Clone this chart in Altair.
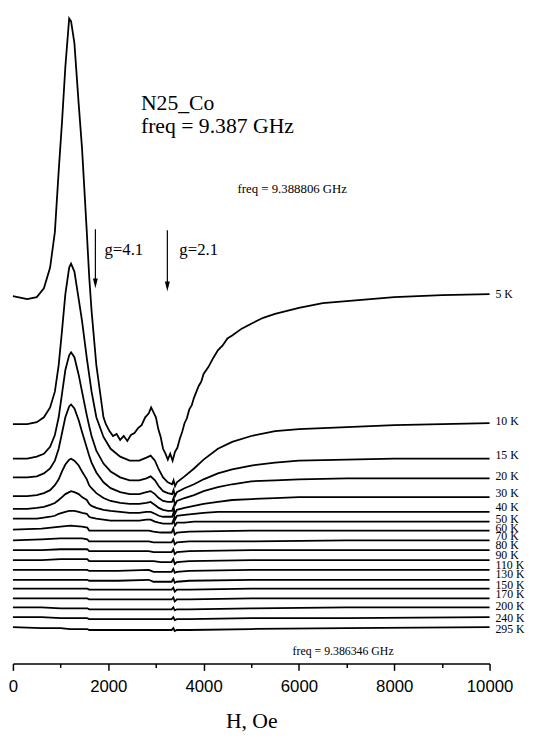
import altair as alt
import pandas as pd

# ---------------- data (signal in arbitrary units, offset per temperature) ----------------
TEMPS = ["5 K", "10 K", "15 K", "20 K", "30 K", "40 K", "50 K", "60 K", "70 K", "80 K",
         "90 K", "110 K", "130 K", "150 K", "170 K", "200 K", "240 K", "295 K"]
OFFSETS = [372, 243, 208, 189, 170, 157, 147, 136, 125, 115, 105, 95, 85, 76, 66, 57, 47, 37]
LABEL_Y = [375, 246, 212, 190, 173, 159, 147, 138, 129, 120, 110, 100, 91, 80, 70, 58, 46, 35]

H_5K = [0, 300, 500, 650, 780, 880, 960, 1030, 1100, 1180, 1220, 1290, 1380, 1450, 1550, 1600,
        1650, 1750, 1900, 1950, 2025, 2100, 2175, 2250, 2325, 2400, 2475, 2550, 2625, 2700,
        2775, 2850, 2900, 2950, 3000, 3050, 3100, 3150, 3200, 3250, 3300, 3350, 3400, 3450,
        3500, 3550, 3600, 3650, 3700, 3750, 3800, 3850, 3900, 3950, 4000, 4100, 4200, 4300,
        4400, 4500, 4600, 4800, 5000, 5250, 5500, 6000, 6500, 7000, 8000, 9000, 10000]
S_5K = [1, -2, 0, 9, 30, 66, 128, 178, 234, 283, 280, 258, 196, 151, 66, 21,
        -14, -69, -122, -129, -136, -141, -139, -145, -141, -146, -140, -138, -133, -130,
        -122, -118, -112, -117, -122, -134, -142, -154, -159, -165, -159, -166, -157, -153,
        -144, -137, -128, -123, -114, -110, -102, -96, -90, -86, -78, -71, -62, -54,
        -49, -42, -39, -32, -27, -21, -17, -11, -6, -4, 0, 2, 3]

H_GRID = [0, 300, 500, 650, 780, 880, 960, 1030, 1100, 1180, 1220, 1290, 1380, 1450, 1550,
          1600, 1650, 1750, 1900, 2050, 2250, 2450, 2650, 2800, 2890, 2980, 3060, 3150, 3250,
          3340, 3370, 3400, 3440, 3600, 3800, 4000, 4300, 4600, 5000, 5500, 6000, 7000, 8000,
          10000]
S_10K = [0, 0, 2, 7, 17, 33, 60, 95, 132, 159, 163, 155, 127, 105, 67, 50, 33, 7, -13, -25,
         -33, -37, -37, -34, -32, -37, -46, -54, -59, -61, -57, -63, -59, -53, -45, -36, -25,
         -18, -12, -7, -5, -3, -1, 1]
S_15K = [0, 0, 2, 5, 12, 24, 42, 66, 90, 105, 108, 103, 85, 68, 44, 33, 23, 8, -5, -13,
         -19, -22, -22, -20, -18, -22, -28, -33, -35, -36, -32, -38, -34, -30, -26, -21, -15,
         -11, -7, -4, -2, -1, 0, 0]
S_20K = [0, 0, 1, 4, 9, 17, 29, 45, 61, 72, 74, 70, 58, 46, 30, 22, 15, 5, -5, -11,
         -15, -17, -17, -15, -14, -17, -21, -24, -25, -25, -21, -28, -24, -21, -18, -14, -10,
         -7, -4, -3, -2, -1, -1, -1]
S_30K = [0, 0, 1, 3, 6, 11, 17, 25, 32, 37, 38, 36, 31, 25, 17, 11, 8, 3, -2, -5,
         -7, -8, -8, -7, -6, -9, -12, -14, -15, -15, -11, -18, -14, -12, -10, -8, -6,
         -4, -3, -2, -1, -1, -1, -1]
S_40K = [0, 0, 1, 2, 4, 6, 9, 12, 15, 17, 18, 17, 15, 12, 9, 5, 3, 1, -1, -2,
         -3, -4, -4, -3, -3, -5, -7, -8, -8, -8, -4, -11, -7, -6, -5, -4, -3,
         -3, -3, -3, -3, -3, -3, -3]
S_50K = [0, 0, 0, 1, 2, 3, 5, 6, 7, 8, 8, 8, 7, 6, 5, 2, 1, 0, -1, -2,
         -2, -2, -2, -1, -1, -3, -4, -5, -5, -5, -1, -7, -4, -4, -3, -3, -3,
         -3, -3, -3, -3, -3, -3, -3]

H_FLAT = [0, 600, 1000, 1200, 1450, 1560, 1600, 2200, 2850, 2950, 3100, 3330, 3365, 3395,
          3440, 3700, 5000, 7000, 10000]
S_60K = [0, 1, 3, 4, 3, 2, -1, -1, -1, -2, -3, -3, 1, -5, -3, -2, -1, -1, -1]
S_70K = [0, 1, 2, 2, 2, 1, -1, -1, -1, -2, -2, -2, 1, -4, -2, -1, -1, 0, 0]
S_80K = [0, 0, 1, 1, 1, 1, -1, -1, -1, -2, -2, -2, 1, -4, -2, -1, 0, 0, 0]
S_90K = [0, 0, 1, 1, 1, 1, -1, -1, -1, -1, -2, -2, 1, -4, -2, -1, 0, 0, 0]
S_110K = [0, 0, 0, 0, 0, 0, -1, -1, 0, -2, -2, -2, 1, -3, -2, -1, 0, 0, 0]
S_130K = [0, 0, 0, 0, 0, 0, -1, -1, 0, -2, -2, -2, 1, -3, -2, -1, 0, 0, 0]
S_150K = [0, 0, 0, 0, 0, 0, -1, -1, -1, -1, -1, -1, 1, -3, -1, -1, 0, 0, 0]
S_170K = [0, 0, 0, 0, 0, 0, -1, -1, -1, -1, -1, -1, 1, -3, -1, -1, 0, 0, 0]
S_200K = [0, 0, -1, -1, -1, -1, -2, -2, -2, -2, -2, -2, 0, -3, -2, -2, -1, 0, 0]
S_240K = [0, 0, -1, -1, -1, -1, -2, -2, -2, -2, -2, -2, 0, -3, -2, -2, -1, -1, 0]
S_295K = [0, -1, -1, -2, -2, -2, -3, -3, -3, -3, -3, -3, -1, -4, -3, -3, -2, -1, 0]

SERIES = [
    (H_5K, S_5K), (H_GRID, S_10K), (H_GRID, S_15K), (H_GRID, S_20K), (H_GRID, S_30K),
    (H_GRID, S_40K), (H_GRID, S_50K), (H_FLAT, S_60K), (H_FLAT, S_70K), (H_FLAT, S_80K),
    (H_FLAT, S_90K), (H_FLAT, S_110K), (H_FLAT, S_130K), (H_FLAT, S_150K), (H_FLAT, S_170K),
    (H_FLAT, S_200K), (H_FLAT, S_240K), (H_FLAT, S_295K),
]

rows = []
for name, off, (hs, ss) in zip(TEMPS, OFFSETS, SERIES):
    assert len(hs) == len(ss), name
    for h, s in zip(hs, ss):
        rows.append({"H": h, "signal": off + s, "T": name})
df = pd.DataFrame(rows)
labels = pd.DataFrame({"T": TEMPS, "ly": LABEL_Y})
one = pd.DataFrame({"a": [0]})

SERIF = "Liberation Serif"
SANS = "Liberation Sans"

xscale = alt.Scale(domain=[0, 10000], nice=False, zero=False)
yscale = alt.Scale(domain=[0, 660], nice=False, zero=False)

xaxis = alt.Axis(
    values=list(range(0, 10001, 1000)), format="d",
    labelExpr="datum.value % 2000 === 0 ? datum.label : ''",
    tickSize={"condition": {"test": "datum.value % 2000 === 0", "value": 7}, "value": 4},
    domainColor="black", tickColor="black", domainWidth=1.5, tickWidth=1.5,
    labelFont=SANS, labelFontSize=17, labelColor="black", labelPadding=8,
    labelOverlap=False, labelFlush=False,
    titleFont=SERIF, titleFontSize=22, titleFontWeight="normal", titleColor="black",
    titlePadding=17, grid=False,
)

lines = alt.Chart(df).mark_line(color="black", strokeWidth=1.8).encode(
    x=alt.X("H:Q", scale=xscale, axis=xaxis, title="H, Oe"),
    y=alt.Y("signal:Q", scale=yscale, axis=None),
    detail="T:N",
)

temp_text = alt.Chart(labels).mark_text(
    align="left", baseline="middle", dx=6, font=SERIF, fontSize=12, color="black"
).encode(x=alt.datum(10000), y=alt.Y("ly:Q"), text="T:N")


def note(txt, h, v, size):
    return alt.Chart(one).mark_text(
        text=txt, align="left", baseline="alphabetic", font=SERIF, fontSize=size, color="black"
    ).encode(x=alt.datum(h), y=alt.datum(v))


def arrow(h, top, tip):
    r = alt.Chart(one).mark_rule(color="black", strokeWidth=1.2).encode(
        x=alt.datum(h), y=alt.datum(top), y2=alt.datum(tip + 5))
    p = alt.Chart(one).mark_point(
        shape="M-0.5,-2L0.5,-2L0,0Z", filled=True, color="black", opacity=1, size=100
    ).encode(x=alt.datum(h), y=alt.datum(tip))
    return r + p


chart = alt.layer(
    lines,
    temp_text,
    note("N25_Co", 2686, 562, 22),
    note("freq = 9.387 GHz", 2686, 539, 22),
    note("freq = 9.388806 GHz", 4711, 478, 13),
    note("g=4.1", 1921, 415, 17),
    note("g=2.1", 3492, 415, 17),
    note("freq = 9.386346 GHz", 5868, 9, 12),
    arrow(1730, 441, 381),
    arrow(3240, 440, 378),
).properties(
    width=484, height=660,
    padding={"left": 5, "top": 0, "right": 37, "bottom": 66},
    autosize=alt.AutoSizeParams(type="none"),
).configure_view(stroke=None)

chart.save("out.html", embed_options={"renderer": "svg", "actions": False})
